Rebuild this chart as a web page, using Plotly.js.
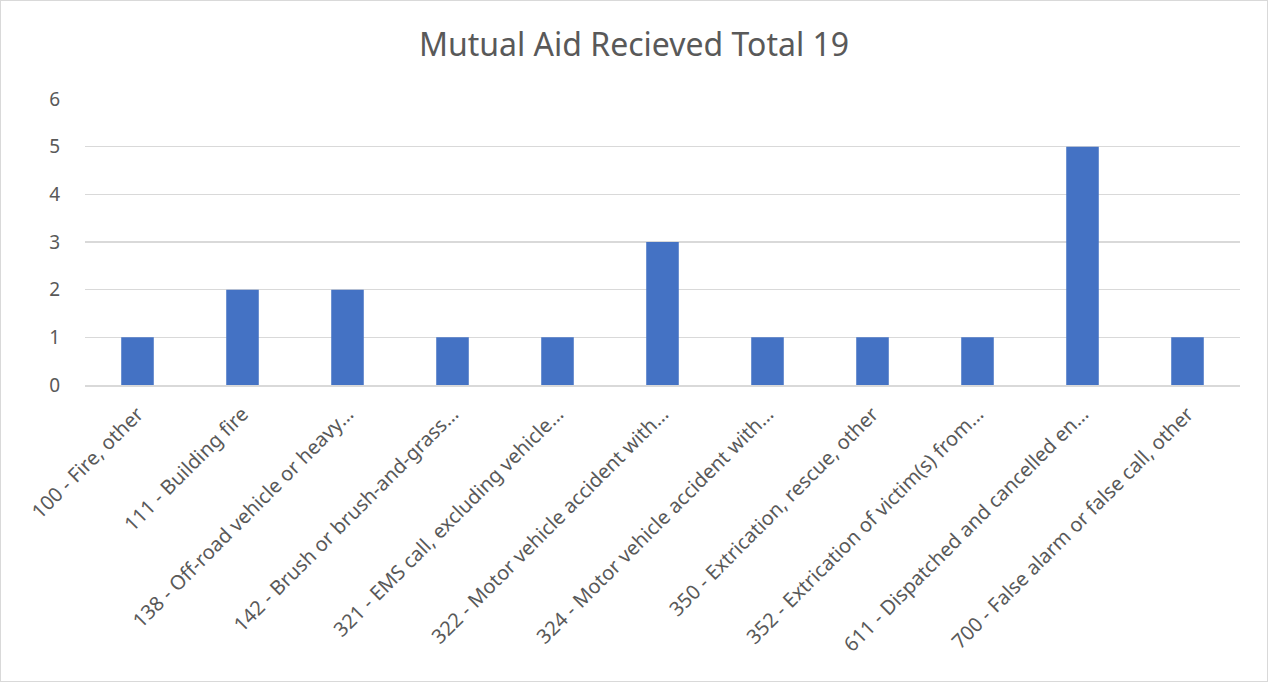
<!DOCTYPE html>
<html>
<head>
<meta charset="utf-8">
<script src="https://cdn.plot.ly/plotly-3.0.1.min.js"></script>
<style>
  html, body { margin: 0; padding: 0; background: #fff; }
  #wrap { width: 1268px; height: 682px; box-sizing: border-box; border: 1px solid #d9d9d9; }
  #chart { width: 1266px; height: 680px; }
</style>
</head>
<body>
<div id="wrap"><div id="chart"></div></div>
<script>
const categories = [
  "100 - Fire, other",
  "111 - Building fire",
  "138 - Off-road vehicle or heavy…",
  "142 - Brush or brush-and-grass…",
  "321 - EMS call, excluding vehicle…",
  "322 - Motor vehicle accident with…",
  "324 - Motor vehicle accident with…",
  "350 - Extrication, rescue, other",
  "352 - Extrication of victim(s) from…",
  "611 - Dispatched and cancelled en…",
  "700 - False alarm or false call, other"
];
const counts = [1, 2, 2, 1, 1, 3, 1, 1, 1, 5, 1];
const titleText = "Mutual Aid Recieved Total 19";

const fontFamily = "'Noto Sans', 'Open Sans', sans-serif";

Plotly.newPlot('chart', [{
  type: 'bar',
  x: categories.map((c, i) => i),
  y: counts,
  marker: { color: '#4472C4' },
  width: 0.31,
  hoverinfo: 'x+y'
}], {
  width: 1266,
  height: 680,
  paper_bgcolor: '#ffffff',
  plot_bgcolor: '#ffffff',
  margin: { l: 84, r: 27, t: 98, b: 296 },
  title: {
    text: titleText,
    font: { family: fontFamily, size: 32, color: '#595959' },
    x: 0.5, xanchor: 'center', y: 0.935, yanchor: 'middle'
  },
  showlegend: false,
  xaxis: {
    type: 'linear',
    range: [-0.5, categories.length - 0.5],
    tickmode: 'array',
    tickvals: categories.map((c, i) => i),
    ticktext: categories,
    tickangle: -45,
    tickfont: { family: fontFamily, size: 20, color: '#595959' },
    showgrid: false,
    zeroline: false,
    showline: true,
    linecolor: '#d9d9d9',
    linewidth: 1.5,
    ticks: 'outside',
    ticklen: 8,
    tickcolor: 'rgba(0,0,0,0)',
    fixedrange: true
  },
  yaxis: {
    range: [0, 6],
    dtick: 1,
    tick0: 0,
    showgrid: true,
    gridcolor: '#d9d9d9',
    gridwidth: 1.5,
    zeroline: false,
    showline: false,
    tickfont: { family: fontFamily, size: 19, color: '#595959' },
    ticks: 'outside',
    ticklen: 20,
    tickcolor: 'rgba(0,0,0,0)',
    fixedrange: true
  }
}, { displayModeBar: false, staticPlot: true });
</script>
</body>
</html>
